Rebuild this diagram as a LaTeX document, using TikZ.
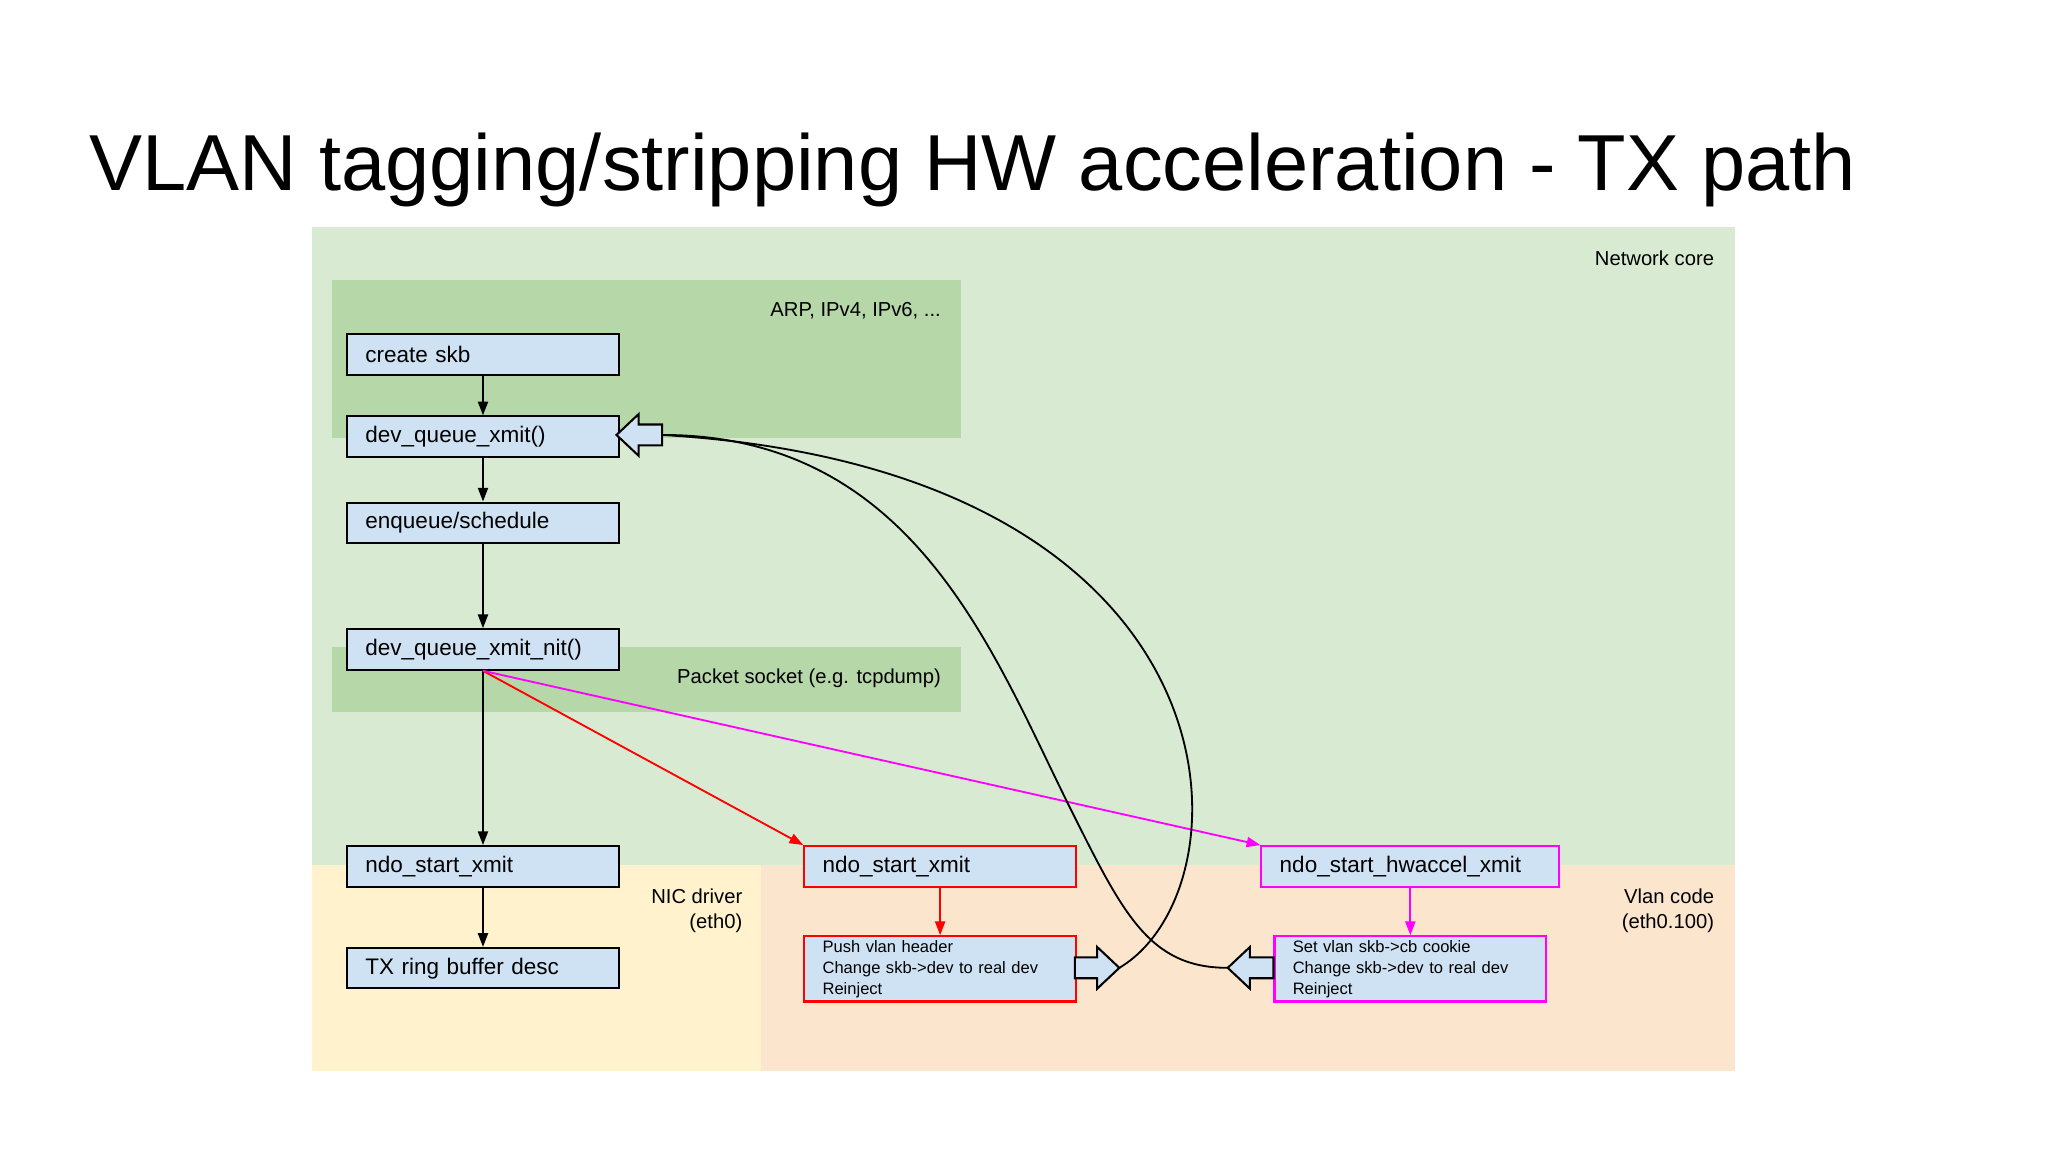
\documentclass[tikz,border=0pt]{standalone}
\usepackage{fontspec}
\setmainfont{Liberation Sans}
\usetikzlibrary{arrows.meta}
\definecolor{core}{HTML}{D9EAD3}
\definecolor{dk}{HTML}{B6D7A8}
\definecolor{nic}{HTML}{FFF2CC}
\definecolor{vlan}{HTML}{FCE5CD}
\definecolor{boxb}{HTML}{CFE2F3}
\definecolor{mag}{HTML}{FF00FF}
\begin{document}
\begin{tikzpicture}[x=0.01cm,y=-0.01cm,
 box/.style={draw=black,line width=0.45pt,fill=boxb,minimum width=207*0.01cm,minimum height=31*0.01cm,anchor=north west,text width=180*0.01cm,inner ysep=0pt,inner xsep=14*0.01cm,align=left,font=\fontsize{4.9}{5.5}\selectfont},
 sbox/.style={box,minimum height=50*0.01cm,font=\fontsize{3.6}{4.6}\selectfont},
 lbl/.style={font=\fontsize{4.4}{5.3}\selectfont,align=right,inner sep=0pt},
 ar/.style={-{Triangle[length=3pt,width=2.2pt]},line width=0.4pt},
 blk/.style={draw=black,line width=0.45pt,fill=boxb}]
\useasboundingbox (0,0) rectangle (1568,882);
\node[anchor=west,font=\fontsize{17.3}{20}\selectfont,inner sep=0pt] (title) at (68,130) {VLAN tagging/stripping HW acceleration - TX path};
\fill[core] (239,174) rectangle (1328,662);
\fill[nic] (239,662) rectangle (583,820);
\fill[vlan] (583,662) rectangle (1328,820);
\fill[dk] (254,214) rectangle (736,335);
\fill[dk] (254,495) rectangle (736,545);
\node[lbl,anchor=east] (nc) at (1313,198) {Network core};
\node[lbl,anchor=east] (arp) at (721,238) {ARP, IPv4, IPv6, ...};
\node[lbl,anchor=east] (ps) at (721,519) {Packet socket (e.g. tcpdump)};
\node[lbl,anchor=north east] (nd) at (569,680) {NIC driver\\(eth0)};
\node[lbl,anchor=north east] (vc) at (1313,680) {Vlan code\\(eth0.100)};
\node[box] (cs) at (265,255) {create skb};
\node[box] (dqx) at (265,318) {dev\_queue\_xmit()};
\node[box] (enq) at (265,384) {enqueue/schedule};
\node[box] (nit) at (265,481) {dev\_queue\_xmit\_nit()};
\node[box] (nsx) at (265,647) {ndo\_start\_xmit};
\node[box] (tx) at (265,725) {TX ring buffer desc};
\node[box,draw=red] (rsx) at (615,647) {ndo\_start\_xmit};
\node[sbox,draw=red] (push) at (615,716) {Push vlan header\\Change skb->dev to real dev\\Reinject};
\node[box,draw=mag,minimum width=227*0.01cm,text width=200*0.01cm] (hw) at (965,647) {ndo\_start\_hwaccel\_xmit};
\node[sbox,draw=mag] (set) at (975,716) {Set vlan skb->cb cookie\\Change skb->dev to real dev\\Reinject};
\draw[ar] (cs) -- (dqx);
\draw[ar] (dqx) -- (enq);
\draw[ar] (enq) -- (nit);
\draw[ar] (nit) -- (nsx);
\draw[ar] (nsx) -- (tx);
\draw[ar,red] (rsx) -- (push);
\draw[ar,mag] (hw.south) -- (set.north -| hw.south);
\draw[ar,red] (nit.south) -- (rsx.north west);
\draw[ar,mag] (nit.south) -- (hw.north west);
% block arrows
\draw[blk] (472,333) -- (489,317) -- (489,325) -- (507,325) -- (507,341) -- (489,341) -- (489,349) -- cycle;
\coordinate (a1) at (507,333);
\draw[blk] (857,741) -- (840,725) -- (840,733) -- (823,733) -- (823,749) -- (840,749) -- (840,757) -- cycle;
\coordinate (a2) at (857,741);
\draw[blk] (940,741) -- (957,725) -- (957,733) -- (975,733) -- (975,749) -- (957,749) -- (957,757) -- cycle;
\coordinate (a3) at (940,741);
\draw[line width=0.4pt] (a2) .. controls (960,680) and (960,360) .. (a1);
\draw[line width=0.4pt] (a1) .. controls (700,333) and (760,500) .. (820,620) .. controls (860,700) and (880,741) .. (a3);
\end{tikzpicture}
\end{document}
